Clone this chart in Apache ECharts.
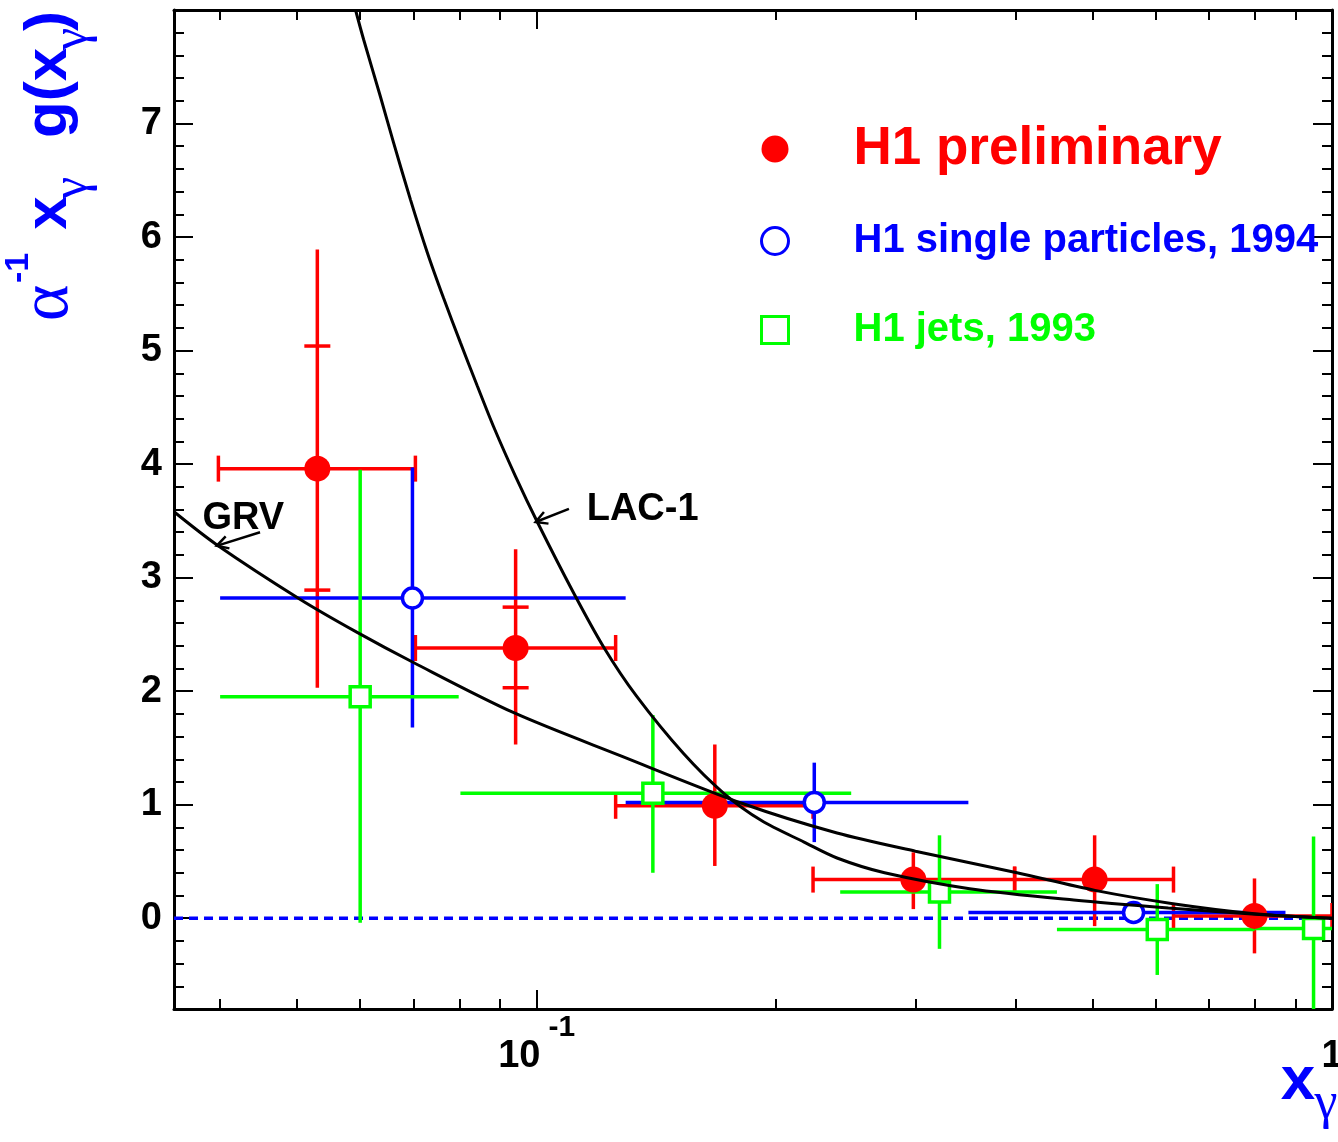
<!DOCTYPE html>
<html><head><meta charset="utf-8">
<script src="https://cdn.jsdelivr.net/npm/echarts@6/dist/echarts.min.js"></script>
<style>html,body{margin:0;padding:0;background:#fff}#c{width:1338px;height:1142px}</style>
</head><body><div id="c"></div>
<script>
// ---------------- data ----------------
const xRange = [0.035, 1];
const yRange = [-0.8, 8];
const xMajorTicks = [0.1, 1];
const xTickLabels = ['{b|10}{s|-1}', '{b|1}'];
const xMinorTicks = [0.04, 0.05, 0.06, 0.07, 0.08, 0.09, 0.2, 0.3, 0.4, 0.5, 0.6, 0.7, 0.8, 0.9];
const yMajorTicks = [0, 1, 2, 3, 4, 5, 6, 7];
const yMinorTicks = [-0.6, -0.4, -0.2, 0.2, 0.4, 0.6, 0.8, 1.2, 1.4, 1.6, 1.8, 2.2, 2.4, 2.6, 2.8,
  3.2, 3.4, 3.6, 3.8, 4.2, 4.4, 4.6, 4.8, 5.2, 5.4, 5.6, 5.8, 6.2, 6.4, 6.6, 6.8, 7.2, 7.4, 7.6, 7.8];

// H1 preliminary: [x, y, xLow, xHigh, yLow, yHigh, statLow, statHigh]
const h1Preliminary = [
  [0.0530, 3.96, 0.0398, 0.0704, 2.03, 5.89, 2.89, 5.04],
  [0.0941, 2.38, 0.0704, 0.1257, 1.53, 3.25, 2.03, 2.74],
  [0.1675, 0.99, 0.1257, 0.2226, 0.46, 1.53, null, null],
  [0.2976, 0.34, 0.2226, 0.3990, 0.08, 0.58, null, null],
  [0.5030, 0.34, 0.3990, 0.6320, -0.07, 0.73, null, null],
  [0.7990, 0.02, 0.6320, 1.0000, -0.31, 0.35, null, null]
];
// H1 single particles 1994: [x, y, xLow, xHigh, yLow, yHigh]
const h1Single = [
  [0.0698, 2.82, 0.0400, 0.1294, 1.68, 3.97],
  [0.2234, 1.02, 0.1294, 0.3490, 0.67, 1.37],
  [0.5630, 0.05, 0.3490, 0.8740, 0.02, 0.08]
];
// H1 jets 1993: [x, y, xLow, xHigh, yLow, yHigh]
const h1Jets = [
  [0.0600, 1.95, 0.0400, 0.0798, -0.04, 3.95],
  [0.1400, 1.10, 0.0802, 0.2486, 0.40, 1.79],
  [0.3210, 0.23, 0.2408, 0.4510, -0.27, 0.73],
  [0.6030, -0.10, 0.4510, 0.7990, -0.50, 0.30],
  [0.9480, -0.09, 0.7990, 1.0000, -0.80, 0.72]
];
// theory curves
const grvX = [0.035, 0.0396, 0.0504, 0.0594, 0.0701, 0.0936, 0.1276, 0.1815, 0.2386, 0.2994, 0.4017, 0.5035, 0.631, 0.799, 1.0];
const grvY = [3.58, 3.29, 2.81, 2.52, 2.25, 1.81, 1.43, 1.01, 0.75, 0.59, 0.40, 0.245, 0.128, 0.04, 0.0];
const lacX = [0.0592, 0.0606, 0.0636, 0.0661, 0.0694, 0.0729, 0.0764, 0.0802, 0.0842, 0.0884, 0.0941, 0.1002, 0.1114, 0.1216, 0.1334, 0.153, 0.1719, 0.1917, 0.2169, 0.2386, 0.2738, 0.3503, 0.4733, 0.6226, 0.8185, 1.0];
const lacY = [8.0, 7.74, 7.24, 6.83, 6.33, 5.86, 5.46, 5.07, 4.69, 4.32, 3.89, 3.49, 2.86, 2.38, 1.96, 1.45, 1.10, 0.86, 0.67, 0.53, 0.40, 0.26, 0.16, 0.09, 0.03, 0.0];
const zeroLine = [[0.035, 0], [1, 0]];
// curve labels: [textX, textY, arrowStartX, arrowStartY, arrowTipX, arrowTipY]
const curveLabels = ['GRV', 'LAC-1'];
const curveLabelAnchors = [
  [0.0380, 3.52, 0.0449, 3.40, 0.0396, 3.28],
  [0.1156, 3.60, 0.1098, 3.605, 0.0997, 3.49]
];
const seriesNames = ['H1 preliminary', 'H1 single particles, 1994', 'H1 jets, 1993'];

// ---------------- chart ----------------
const FONT = '"Liberation Sans", Arial, Helvetica, sans-serif';
const SERIF = '"Liberation Serif", "Times New Roman", serif';
const RED = '#ff0000', BLUE = '#0000ff', GREEN = '#00ff00';

const toPairs = (xs, ys) => xs.map((x, i) => [x, ys[i]]);

function errorBars(name, data, color, caps) {
  return {
    type: 'custom', name: name, xAxisIndex: 0, yAxisIndex: 0, z: 2, clip: true, silent: true,
    encode: { x: 0, y: 1 }, data: data,
    renderItem: function (params, api) {
      const x = api.value(0), y = api.value(1);
      const l = api.coord([api.value(2), y]), r = api.coord([api.value(3), y]);
      const b = api.coord([x, api.value(4)]), t = api.coord([x, api.value(5)]);
      const st = { stroke: color, lineWidth: 3.5 };
      const ch = [
        { type: 'line', shape: { x1: l[0], y1: l[1], x2: r[0], y2: r[1] }, style: st },
        { type: 'line', shape: { x1: b[0], y1: b[1], x2: t[0], y2: t[1] }, style: st }
      ];
      if (caps) {
        [l, r].forEach(p => ch.push({ type: 'line', shape: { x1: p[0], y1: p[1] - 13, x2: p[0], y2: p[1] + 13 }, style: st }));
      }
      const raw = data[params.dataIndex];
      [raw[6], raw[7]].forEach(v => {
        if (v !== null && v !== undefined) {
          const p = api.coord([x, v]);
          ch.push({ type: 'line', shape: { x1: p[0] - 13, y1: p[1], x2: p[0] + 13, y2: p[1] }, style: st });
        }
      });
      return { type: 'group', children: ch };
    }
  };
}

const frameLine = { show: true, onZero: false, lineStyle: { color: '#000', width: 3 } };
const tickStyle = { color: '#000', width: 2 };

function xAxisDef(pos, ticks, len, withLine, withLabels) {
  return {
    type: 'log', logBase: 10, min: xRange[0], max: xRange[1], position: pos, gridIndex: 0,
    axisLine: withLine ? frameLine : { show: false, onZero: false },
    axisTick: { show: true, inside: true, length: len, customValues: ticks, lineStyle: tickStyle },
    minorTick: { show: false },
    splitLine: { show: false },
    axisLabel: withLabels ? {
      show: true, customValues: ticks, margin: 4, hideOverlap: false,
      formatter: v => {
        let idx = 0;
        xMajorTicks.forEach((t, i) => { if (Math.abs(Math.log10(v) - Math.log10(t)) < 1e-6) idx = i; });
        return xTickLabels[idx];
      },
      rich: {
        b: { fontSize: 38, fontWeight: 'bold', lineHeight: 88, color: '#000', fontFamily: FONT },
        s: { fontSize: 30, fontWeight: 'bold', lineHeight: 38, verticalAlign: 'top', padding: [0, 0, 0, 8], color: '#000', fontFamily: FONT }
      }
    } : { show: false }
  };
}
function yAxisDef(pos, ticks, len, withLine, withLabels) {
  return {
    type: 'value', min: yRange[0], max: yRange[1], position: pos, gridIndex: 0,
    axisLine: withLine ? frameLine : { show: false, onZero: false },
    axisTick: { show: true, inside: true, length: len, customValues: ticks, lineStyle: tickStyle },
    minorTick: { show: false },
    splitLine: { show: false },
    axisLabel: withLabels ? {
      show: true, customValues: ticks, margin: 12, hideOverlap: false,
      fontSize: 38, fontWeight: 'bold', color: '#000', fontFamily: FONT
    } : { show: false }
  };
}

const legendText = (color, size, lh) => ({ color: color, fontSize: size, lineHeight: lh, fontWeight: 'bold', fontFamily: FONT, padding: [0, 0, 0, 60] });

const option = {
  animation: false,
  backgroundColor: '#fff',
  textStyle: { fontFamily: FONT },
  grid: { left: 174, right: 6, top: 10, bottom: 133, containLabel: false, outerBoundsMode: 'none' },
  xAxis: [
    xAxisDef('bottom', xMajorTicks, 19, true, true),
    xAxisDef('bottom', xMinorTicks, 10, false, false),
    xAxisDef('top', xMajorTicks, 19, true, false),
    xAxisDef('top', xMinorTicks, 10, false, false)
  ],
  yAxis: [
    yAxisDef('left', yMajorTicks, 19, true, true),
    yAxisDef('left', yMinorTicks, 10, false, false),
    yAxisDef('right', yMajorTicks, 19, true, false),
    yAxisDef('right', yMinorTicks, 10, false, false)
  ],
  legend: {
    show: true, orient: 'vertical', left: 755, top: 113, itemWidth: 27, itemHeight: 27, itemGap: 33,
    selectedMode: false,
    textStyle: { fontFamily: FONT, fontWeight: 'bold', padding: [0, 0, 0, 60] },
    data: [
      { name: seriesNames[0], icon: 'circle', itemStyle: { color: RED, borderWidth: 0 }, textStyle: legendText(RED, 53, 62) },
      { name: seriesNames[1], icon: 'circle', itemStyle: { color: '#fff', borderColor: BLUE, borderWidth: 3 }, textStyle: legendText(BLUE, 40, 56) },
      { name: seriesNames[2], icon: 'rect', itemStyle: { color: '#fff', borderColor: GREEN, borderWidth: 3 }, textStyle: legendText(GREEN, 40, 56) }
    ]
  },
  series: [
    {
      type: 'line', name: 'zero', data: zeroLine, xAxisIndex: 0, yAxisIndex: 0, z: 1, silent: true,
      showSymbol: false, symbol: 'none', lineStyle: { color: BLUE, width: 3.5, type: [9, 6] }
    },
    errorBars('err1', h1Preliminary, RED, true),
    errorBars('err2', h1Single, BLUE, false),
    errorBars('err3', h1Jets, GREEN, false),
    {
      type: 'scatter', name: seriesNames[0], data: h1Preliminary.map(d => [d[0], d[1]]), z: 3,
      symbol: 'circle', symbolSize: 26, itemStyle: { color: RED, opacity: 1 }, silent: true
    },
    {
      type: 'scatter', name: seriesNames[1], data: h1Single.map(d => [d[0], d[1]]), z: 3,
      symbol: 'circle', symbolSize: 20, itemStyle: { color: '#fff', borderColor: BLUE, borderWidth: 3.5, opacity: 1 }, silent: true
    },
    {
      type: 'scatter', name: seriesNames[2], data: h1Jets.map(d => [d[0], d[1]]), z: 3,
      symbol: 'rect', symbolSize: 20, itemStyle: { color: '#fff', borderColor: GREEN, borderWidth: 3.5, opacity: 1 }, silent: true
    },
    {
      type: 'line', name: 'GRV', data: toPairs(grvX, grvY), z: 4, silent: true, smooth: 0.3,
      showSymbol: false, symbol: 'none', lineStyle: { color: '#000', width: 3 }
    },
    {
      type: 'line', name: 'LAC-1', data: toPairs(lacX, lacY), z: 4, silent: true, smooth: 0.3,
      showSymbol: false, symbol: 'none', lineStyle: { color: '#000', width: 3 }
    },
    {
      type: 'custom', name: 'curveLabels', data: curveLabelAnchors, z: 5, silent: true,
      encode: { x: 0, y: 1 },
      renderItem: function (params, api) {
        const t = api.coord([api.value(0), api.value(1)]);
        const f = api.coord([api.value(2), api.value(3)]);
        const a = api.coord([api.value(4), api.value(5)]);
        const ang = Math.atan2(f[1] - a[1], f[0] - a[0]);
        const L = 13, s = 0.5;
        const p1 = [a[0] + L * Math.cos(ang + s), a[1] + L * Math.sin(ang + s)];
        const p2 = [a[0] + L * Math.cos(ang - s), a[1] + L * Math.sin(ang - s)];
        return {
          type: 'group', children: [
            { type: 'text', x: t[0], y: t[1], style: { text: curveLabels[params.dataIndex], fontSize: 38, fontWeight: 'bold', fontFamily: FONT, fill: '#000', align: 'left', verticalAlign: 'middle' } },
            { type: 'line', shape: { x1: f[0], y1: f[1], x2: a[0], y2: a[1] }, style: { stroke: '#000', lineWidth: 2.5 } },
            { type: 'polyline', shape: { points: [p1, a, p2] }, style: { stroke: '#000', lineWidth: 2.5, fill: null } }
          ]
        };
      }
    }
  ],
  graphic: [
    {
      type: 'group', x: 70, y: 330, rotation: Math.PI / 2, silent: true,
      children: [
        { type: 'text', x: 27, y: -21, style: { text: 'α', fontSize: 70, fontFamily: SERIF, fill: BLUE, align: 'center', verticalAlign: 'middle' } },
        { type: 'text', x: 62, y: -51, style: { text: '-1', fontSize: 34, fontWeight: 'bold', fontFamily: FONT, fill: BLUE, align: 'center', verticalAlign: 'middle' } },
        { type: 'text', x: 117, y: -21, style: { text: 'x', fontSize: 60, fontWeight: 'bold', fontFamily: FONT, fill: BLUE, align: 'center', verticalAlign: 'middle' } },
        { type: 'text', x: 142, y: 3, style: { text: 'γ', fontSize: 50, fontFamily: SERIF, fill: BLUE, align: 'center', verticalAlign: 'middle' } },
        { type: 'text', x: 192, y: -21, style: { text: 'g(x', fontSize: 60, fontWeight: 'bold', fontFamily: FONT, fill: BLUE, align: 'left', verticalAlign: 'middle' } },
        { type: 'text', x: 291, y: 3, style: { text: 'γ', fontSize: 50, fontFamily: SERIF, fill: BLUE, align: 'center', verticalAlign: 'middle' } },
        { type: 'text', x: 309, y: -21, style: { text: ')', fontSize: 60, fontWeight: 'bold', fontFamily: FONT, fill: BLUE, align: 'center', verticalAlign: 'middle' } }
      ]
    },
    { type: 'text', x: 1298, y: 1082, silent: true, style: { text: 'x', fontSize: 62, fontWeight: 'bold', fontFamily: FONT, fill: BLUE, align: 'center', verticalAlign: 'middle' } },
    { type: 'text', x: 1326, y: 1104, silent: true, style: { text: 'γ', fontSize: 52, fontFamily: SERIF, fill: BLUE, align: 'center', verticalAlign: 'middle' } }
  ]
};

const chart = echarts.init(document.getElementById('c'), null, { renderer: 'canvas' });
chart.setOption(option);
</script>
</body></html>
